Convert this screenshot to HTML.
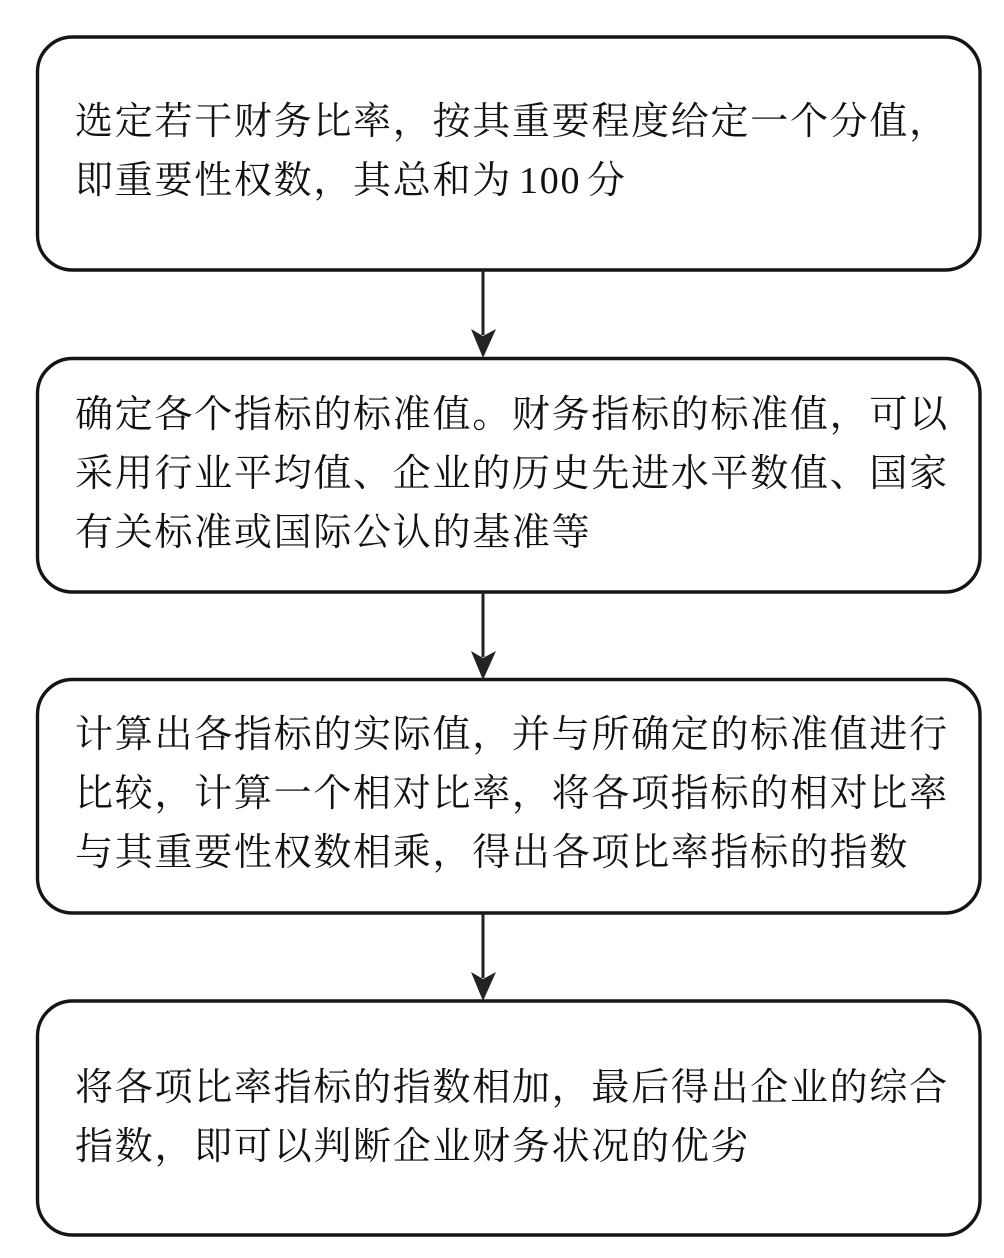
<!DOCTYPE html>
<html lang="zh">
<head>
<meta charset="utf-8">
<style>
html,body{margin:0;padding:0;background:#fff;width:1004px;height:1258px;overflow:hidden}
svg{display:block}
text{font-family:"Liberation Serif","Noto Serif CJK SC",serif;font-size:38px;letter-spacing:1.72px;fill:#111}
rect{fill:#fff;stroke:#151515;stroke-width:3.4}
line{stroke:#222;stroke-width:3}
polygon{fill:#222}
</style>
</head>
<body>
<svg width="1004" height="1258" viewBox="0 0 1004 1258" xmlns="http://www.w3.org/2000/svg">
<rect x="37.5" y="37" width="942.5" height="233" rx="35" ry="35"/>
<rect x="37.5" y="358.5" width="942.5" height="233.5" rx="35" ry="35"/>
<rect x="37.5" y="679.5" width="942.5" height="233.5" rx="35" ry="35"/>
<rect x="37.5" y="1001" width="942.5" height="234" rx="35" ry="35"/>

<line x1="483" y1="270" x2="483" y2="335"/>
<polygon points="471,329 483,336 496,329 483,358"/>
<line x1="483" y1="592" x2="483" y2="657"/>
<polygon points="471,651 483,658 496,651 483,680"/>
<line x1="483" y1="913" x2="483" y2="978"/>
<polygon points="471,972 483,979 496,972 483,1001"/>

<text x="75" y="134">选定若干财务比率&#xFF0C;按其重要程度给定一个分值&#xFF0C;</text>
<text x="75" y="193">即重要性权数&#xFF0C;其总和为<tspan x="519">100</tspan><tspan x="587">分</tspan></text>

<text x="75" y="427">确定各个指标的标准值。财务指标的标准值&#xFF0C;可以</text>
<text x="75" y="486">采用行业平均值、企业的历史先进水平数值、国家</text>
<text x="75" y="545">有关标准或国际公认的基准等</text>

<text x="75" y="747">计算出各指标的实际值&#xFF0C;并与所确定的标准值进行</text>
<text x="75" y="806">比较&#xFF0C;计算一个相对比率&#xFF0C;将各项指标的相对比率</text>
<text x="75" y="865">与其重要性权数相乘&#xFF0C;得出各项比率指标的指数</text>

<text x="75" y="1100">将各项比率指标的指数相加&#xFF0C;最后得出企业的综合</text>
<text x="75" y="1159">指数&#xFF0C;即可以判断企业财务状况的优劣</text>
</svg>
</body>
</html>
